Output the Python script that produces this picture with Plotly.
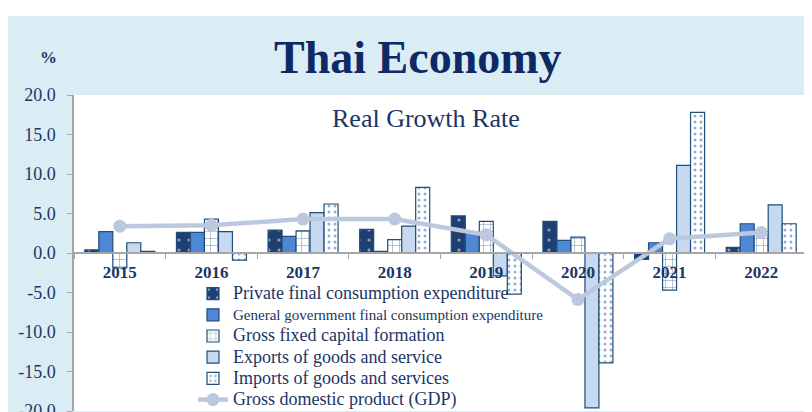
import plotly.graph_objects as go

years = ["2015", "2016", "2017", "2018", "2019", "2020", "2021", "2022"]
private = [0.4, 2.6, 2.9, 3.0, 4.7, 4.0, -0.8, 0.7]
government = [2.7, 2.6, 2.1, 0.2, 2.7, 1.6, 1.3, 3.7]
gfcf = [-1.9, 4.3, 2.8, 1.7, 4.0, 2.0, -4.7, 2.7]
exports = [1.3, 2.7, 5.1, 3.4, -2.9, -19.6, 11.1, 6.1]
imports = [0.2, -0.9, 6.2, 8.3, -5.2, -13.9, 17.8, 3.7]
gdp = [3.4, 3.5, 4.3, 4.3, 2.3, -5.9, 1.8, 2.6]

y_tickvals = [20, 15, 10, 5, 0, -5, -10, -15, -20]
y_ticktext = ["20.0", "15.0", "10.0", "5.0", "0.0", "-5.0", "-10.0", "-15.0", "-20.0"]

# page body has an 8px margin: figure coords = screen coords - OFF
OFF = 8
W, H = 812, 424
PL, PR, PT, PB = 74, 807, 95, 411          # plot area in screen pixels
ML, MT = PL - OFF, PT - OFF
MR, MB = W - (PR - OFF), H - (PB - OFF)
PW = PR - PL
PH = PB - PT

def px(x):
    return (x - PL) / PW

def py(y):
    return (PB - y) / PH

NAVY = "#1b3565"
BORDER = "#1f4e79"
SERIF = "Liberation Serif"

def big(s, size=18):
    return '<span style="font-size:%dpx">%s</span>' % (size, s)

fig = go.Figure()
fig.add_trace(go.Bar(
    x=years, y=private, name=big("Private final consumption expenditure"),
    marker=dict(color="#1f3f73", line=dict(color=BORDER, width=1.2),
                pattern=dict(shape=".", fgcolor="white", bgcolor="#1f3f73", size=10, solidity=0.08)),
))
fig.add_trace(go.Bar(
    x=years, y=government,
    name=big("General government final consumption expenditure", 15),
    marker=dict(color="#4f87d4", line=dict(color=BORDER, width=1.2)),
))
fig.add_trace(go.Bar(
    x=years, y=gfcf, name=big("Gross fixed capital formation"),
    marker=dict(color="white", line=dict(color=BORDER, width=1.2),
                pattern=dict(shape="+", fgcolor=BORDER, bgcolor="white", size=7, solidity=0.18)),
))
fig.add_trace(go.Bar(
    x=years, y=exports, name=big("Exports of goods and service"),
    marker=dict(color="#c6d9f0", line=dict(color=BORDER, width=1.2)),
))
fig.add_trace(go.Bar(
    x=years, y=imports, name=big("Imports of goods and services"),
    marker=dict(color="white", line=dict(color=BORDER, width=1.2),
                pattern=dict(shape=".", fgcolor="#2d5d9f", bgcolor="white", size=6, solidity=0.2)),
))
fig.add_trace(go.Scatter(
    x=years, y=gdp, name=big("Gross domestic product (GDP)"), mode="lines+markers",
    line=dict(color="#bcc8de", width=4.5),
    marker=dict(color="#bcc8de", size=13),
))

fig.update_layout(
    width=W, height=H,
    margin=dict(l=ML, r=MR, t=MT, b=MB, pad=0, autoexpand=False),
    paper_bgcolor="#dbedf4",
    plot_bgcolor="white",
    barmode="group",
    bargap=0.236,
    bargroupgap=0,
    showlegend=True,
    legend=dict(
        x=px(193), y=py(278), xanchor="left", yanchor="top",
        bgcolor="rgba(0,0,0,0)", borderwidth=0,
        font=dict(family=SERIF, size=14, color=NAVY),
        tracegroupgap=0, itemwidth=30,
    ),
    font=dict(family=SERIF, color=NAVY),
    xaxis=dict(
        type="category", anchor="free", position=py(253),
        showline=True, linecolor="#a6a6a6", linewidth=1.5,
        ticks="outside", ticklen=5, tickcolor="#a6a6a6", tickson="boundaries",
        ticklabelstandoff=4,
        tickfont=dict(family=SERIF, size=17, color=NAVY, weight="bold"),
        showgrid=False, zeroline=False, automargin=False,
    ),
    yaxis=dict(
        range=[-20, 20], tickvals=y_tickvals, ticktext=y_ticktext,
        showline=True, linecolor="#a6a6a6", linewidth=1.5,
        ticks="outside", ticklen=5, tickcolor="#a6a6a6",
        ticklabelstandoff=8,
        tickfont=dict(family=SERIF, size=18, color=NAVY),
        showgrid=False, zeroline=False, automargin=False,
    ),
    shapes=[
        dict(type="rect", xref="paper", yref="paper", layer="below",
             x0=px(OFF), x1=px(W + OFF), y0=py(16), y1=py(OFF),
             fillcolor="white", line=dict(width=0)),
    ],
    annotations=[
        dict(text="<b>Thai Economy</b>", xref="paper", yref="paper",
             x=px(418), y=py(57), xanchor="center", yanchor="middle", showarrow=False,
             font=dict(family=SERIF, size=46, color="#0e2a66")),
        dict(text="<b>%</b>", xref="paper", yref="paper",
             x=px(48), y=py(57), xanchor="center", yanchor="middle", showarrow=False,
             font=dict(family=SERIF, size=17, color=NAVY)),
        dict(text="Real Growth Rate", xref="paper", yref="paper",
             x=px(426), y=py(118), xanchor="center", yanchor="middle", showarrow=False,
             font=dict(family=SERIF, size=26, color=NAVY)),
    ],
)

fig.write_html("out.html")
